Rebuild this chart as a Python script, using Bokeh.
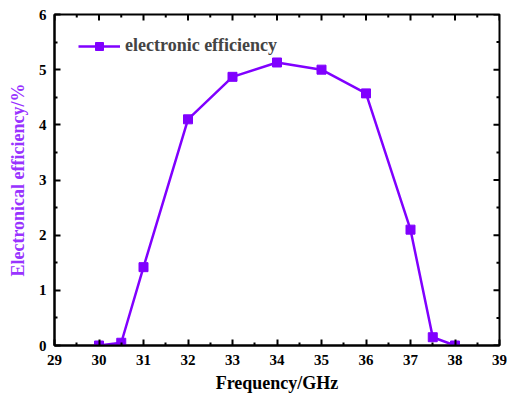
import math
from bokeh.plotting import figure
from bokeh.models import Range1d, FixedTicker, Legend, LegendItem
from bokeh.embed import file_html
from bokeh.resources import INLINE

freq = [30, 30.5, 31, 32, 33, 34, 35, 36, 37, 37.5, 38]
eff = [0.0, 0.05, 1.42, 4.1, 4.87, 5.13, 5.0, 4.57, 2.1, 0.15, 0.0]
x_ticks = [29, 30, 31, 32, 33, 34, 35, 36, 37, 38, 39]
x_minor = [29.5, 30.5, 31.5, 32.5, 33.5, 34.5, 35.5, 36.5, 37.5, 38.5]
y_ticks = [0, 1, 2, 3, 4, 5, 6]
y_minor = [0.5, 1.5, 2.5, 3.5, 4.5, 5.5]

color = "#8000ff"
font = "Liberation Serif"

p = figure(width=507, height=395, output_backend="svg", toolbar_location=None,
           x_range=Range1d(29, 39), y_range=Range1d(0, 6),
           min_border_left=54, min_border_right=8, min_border_top=14, min_border_bottom=0)
p.grid.visible = False
p.outline_line_color = "black"
p.outline_line_width = 2

for ax in (p.xaxis[0], p.yaxis[0]):
    ax.major_tick_in = 6
    ax.major_tick_out = 0
    ax.minor_tick_in = 3
    ax.minor_tick_out = 0
    ax.axis_line_width = 2
    ax.major_tick_line_width = 2
    ax.minor_tick_line_width = 2
    ax.major_label_text_font = font
    ax.major_label_text_font_style = "bold"
    ax.major_label_text_font_size = "15px"
    ax.major_label_text_color = "black"
    ax.axis_label_text_font = font
    ax.axis_label_text_font_style = "bold"
    ax.axis_label_text_font_size = "18px"

p.xaxis.ticker = FixedTicker(ticks=x_ticks, minor_ticks=x_minor)
p.yaxis.ticker = FixedTicker(ticks=y_ticks, minor_ticks=y_minor)
p.xaxis.axis_label = "Frequency/GHz"
p.yaxis.axis_label = "Electronical efficiency/%"
p.xaxis.axis_label_text_color = "black"
p.yaxis.axis_label_text_color = "#9933ff"
p.xaxis.major_label_standoff = 9
p.xaxis.axis_label_standoff = 5
p.yaxis.major_label_standoff = 8
p.yaxis.axis_label_standoff = 8

# ticks on the top and right edges (half of each dash is clipped by the frame)
p.scatter(x_ticks, [6] * len(x_ticks), marker="dash", angle=math.pi / 2, size=12,
          line_color="black", line_width=2)
p.scatter(x_minor, [6] * len(x_minor), marker="dash", angle=math.pi / 2, size=6,
          line_color="black", line_width=2)
p.scatter([39] * len(y_ticks), y_ticks, marker="dash", size=12, line_color="black", line_width=2)
p.scatter([39] * len(y_minor), y_minor, marker="dash", size=6, line_color="black", line_width=2)

r1 = p.line(freq, eff, line_color=color, line_width=2.5)
r2 = p.scatter(freq, eff, marker="square", size=9, fill_color=color, line_color=color)

legend = Legend(items=[LegendItem(label="electronic efficiency", renderers=[r1, r2])],
                location=(20, 285), border_line_alpha=0, background_fill_alpha=0,
                label_text_font=font, label_text_font_style="bold", label_text_font_size="18px",
                glyph_width=42, margin=0, padding=4, label_standoff=5)
p.add_layout(legend)

open("out.html", "w").write(file_html(p, INLINE))
